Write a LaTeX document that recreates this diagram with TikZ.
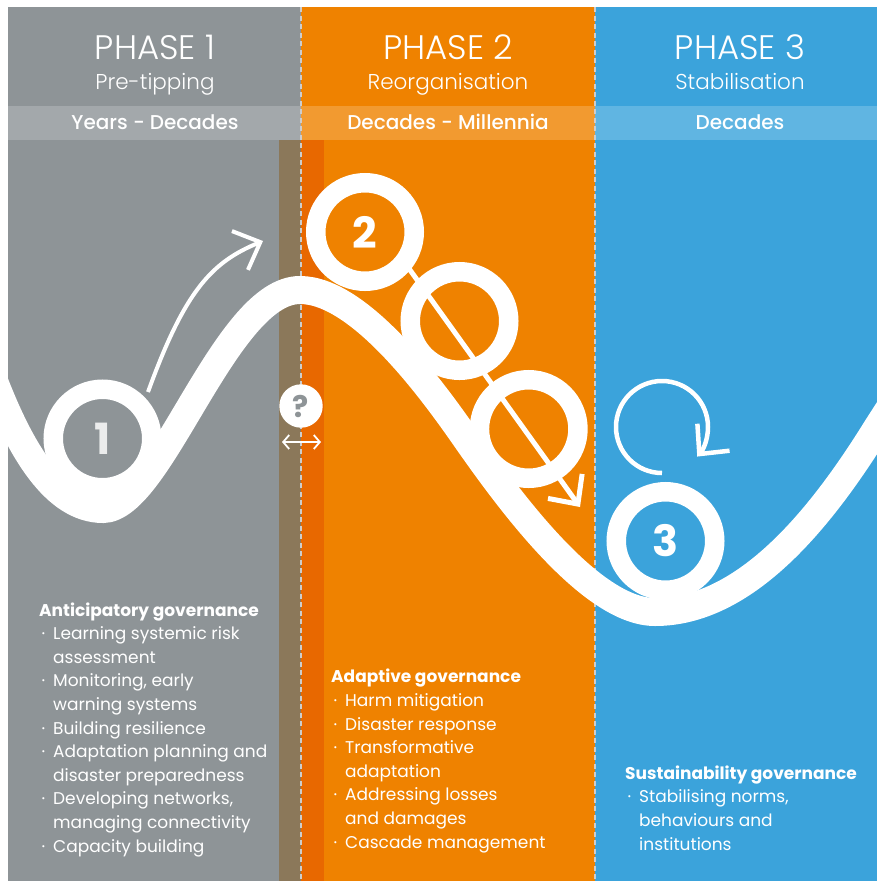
\documentclass[tikz,border=0pt]{standalone}
\usepackage{fontspec}
\setmainfont{Poppins}
\IfFontExistsTF{Poppins Light}{\newfontfamily\lightfont{Poppins Light}}{\newfontfamily\lightfont{Poppins}}
\IfFontExistsTF{Poppins Medium}{\newfontfamily\medfont{Poppins Medium}}{\newfontfamily\medfont{Poppins}}
\usetikzlibrary{arrows.meta}

\definecolor{phgray}{RGB}{142,148,151}
\definecolor{phorange}{RGB}{239,130,0}
\definecolor{phblue}{RGB}{59,163,219}
\definecolor{tipbrown}{RGB}{139,120,90}
\definecolor{tiporange}{RGB}{232,104,0}
\definecolor{sepgray}{RGB}{205,205,205}

\newcommand{\itm}{\hspace*{2.5pt}\makebox[11.5pt][l]{·}}
\newcommand{\cnt}{\hspace*{14pt}}

\tikzset{
  ring/.style={circle,draw=white,line width=19.5pt,minimum size=98.5pt,inner sep=0pt,
    text=white,font=\bfseries\fontsize{43}{43}\selectfont},
  band/.style={draw=white,line width=28pt},
  barb/.style={white,line width=4.5pt,-{Straight Barb[length=22pt,width=42pt]}},
  phase/.style={anchor=base,text=white,inner sep=0pt,font=\lightfont\fontsize{34}{34}\selectfont},
  sub/.style={anchor=base,text=white,inner sep=0pt,font=\lightfont\fontsize{21.5}{21.5}\selectfont},
  span/.style={anchor=base,text=white,inner sep=0pt,font=\medfont\fontsize{20}{20}\selectfont},
  govlist/.style={anchor=base west,align=left,text=white,inner sep=0pt,
    font=\fontsize{17}{23.6}\selectfont},
}

\begin{document}
\begin{tikzpicture}[x=1pt,y=-1pt]
  \useasboundingbox (0,0) rectangle (877,881);

  % 背景の列
  \foreach \xa/\xb/\c in {8/301/phgray,301/595/phorange,595/877/phblue} {
    \fill[\c] (\xa,7) rectangle (\xb,881);
    \fill[\c!81!white] (\xa,106) rectangle (\xb,140);
  }
  \fill[tipbrown] (279,140) rectangle (301,881);
  \fill[tiporange] (301,140) rectangle (324,881);
  \foreach \x in {301,595}
    \draw[sepgray,line width=1.2pt,dash pattern=on 5pt off 3.5pt] (\x,7) -- (\x,881);

  % 見出し
  \foreach \x/\n/\s/\t in {155/1/Pre-tipping/Years - Decades,
      448/2/Reorganisation/Decades - Millennia,740/3/Stabilisation/Decades} {
    \node[phase] (ph\n) at (\x,59) {PHASE \n};
    \node[sub] (sub\n) at (\x,89) {\s};
    \node[span] (span\n) at (\x,129) {\t};
  }

  % 地形の曲線
  \begin{scope}
    \clip (8,7) rectangle (877,881);
    \draw[band] (-8,376) .. controls (20,450) and (55,509) .. (103,509)
      .. controls (160,509) and (225,290) .. (300,290)
      .. controls (360,290) and (433,391) .. (467,440)
      .. controls (507,497) and (590,612) .. (655,612)
      .. controls (745,612) and (820,520) .. (877,428) -- (895,400);
  \end{scope}

  % ボール
  \node[ring,text=white!82!phgray] (ball1) at (102.5,438.5) {1};
  \node[ring] (ball2) at (365,232) {2};
  \node[ring] (ghost1) at (459.5,321) {};
  \node[ring] (ghost2) at (528.7,429) {};
  \node[ring] (ball3) at (665.5,541) {3};

  % 矢印
  \coordinate (up0) at (148,392);
  \coordinate (up1) at (263,241);
  \draw[barb,line width=4pt] (up0) .. controls (185,290) and (212,262) .. (up1);

  \coordinate (roll0) at (405,263);
  \coordinate (roll1) at (580,507);
  \draw[barb,line width=5pt] (roll0) -- (roll1);

  \coordinate (spin0) at (662,473);
  \draw[barb] (spin0) arc[start angle=-270,end angle=40,radius=46];

  % 転換点
  \node[circle,fill=white,minimum size=43.4pt,inner sep=0pt,text=phgray,
    font=\bfseries\fontsize{30}{30}\selectfont] (tip) at (301,406) {?};
  \coordinate (tipl) at (282,442);
  \coordinate (tipr) at (321,442);
  \draw[white,line width=1.8pt,{Straight Barb[length=6pt,width=14pt]}-{Straight Barb[length=6pt,width=14pt]}]
    (tipl) -- (tipr);

  % ガバナンス（基準は最終行のベースライン）
  \node[govlist] (gov1) at (39,852) {\textbf{Anticipatory governance}\\
    \itm Learning systemic risk\\ \cnt assessment\\
    \itm Monitoring, early\\ \cnt warning systems\\
    \itm Building resilience\\
    \itm Adaptation planning and\\ \cnt disaster preparedness\\
    \itm Developing networks,\\ \cnt managing connectivity\\
    \itm Capacity building};
  \node[govlist] (gov2) at (331,848) {\textbf{Adaptive governance}\\
    \itm Harm mitigation\\
    \itm Disaster response\\
    \itm Transformative\\ \cnt adaptation\\
    \itm Addressing losses\\ \cnt and damages\\
    \itm Cascade management};
  \node[govlist] (gov3) at (625,850) {\textbf{Sustainability governance}\\
    \itm Stabilising norms,\\ \cnt behaviours and\\ \cnt institutions};
\end{tikzpicture}
\end{document}
